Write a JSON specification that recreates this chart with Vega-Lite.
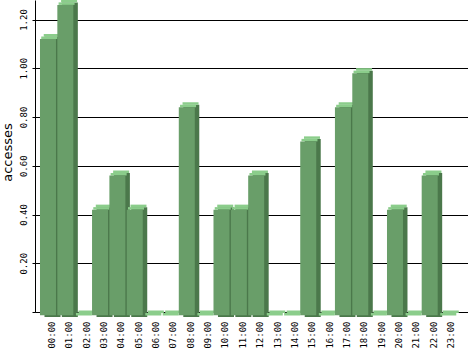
{
  "$schema": "https://vega.github.io/schema/vega-lite/v6.json",
  "autosize": "none",
  "padding": {"left": 35, "top": 0, "right": 0, "bottom": 39},
  "width": 433,
  "height": 312,
  "background": "white",
  "config": {"view": {"stroke": null}},
  "data": {"values": [
    {"hour": "00:00", "accesses": 1.12},
    {"hour": "01:00", "accesses": 1.26},
    {"hour": "02:00", "accesses": 0},
    {"hour": "03:00", "accesses": 0.42},
    {"hour": "04:00", "accesses": 0.56},
    {"hour": "05:00", "accesses": 0.42},
    {"hour": "06:00", "accesses": 0},
    {"hour": "07:00", "accesses": 0},
    {"hour": "08:00", "accesses": 0.84},
    {"hour": "09:00", "accesses": 0},
    {"hour": "10:00", "accesses": 0.42},
    {"hour": "11:00", "accesses": 0.42},
    {"hour": "12:00", "accesses": 0.56},
    {"hour": "13:00", "accesses": 0},
    {"hour": "14:00", "accesses": 0},
    {"hour": "15:00", "accesses": 0.70},
    {"hour": "16:00", "accesses": 0},
    {"hour": "17:00", "accesses": 0.84},
    {"hour": "18:00", "accesses": 0.98},
    {"hour": "19:00", "accesses": 0},
    {"hour": "20:00", "accesses": 0.42},
    {"hour": "21:00", "accesses": 0},
    {"hour": "22:00", "accesses": 0.56},
    {"hour": "23:00", "accesses": 0}
  ]},
  "encoding": {
    "x": {
      "field": "hour", "type": "nominal", "sort": "ascending",
      "scale": {"paddingInner": 0.078, "paddingOuter": 0.5175, "align": 0.278},
      "axis": {
        "title": null, "ticks": false, "domainColor": "black", "domainWidth": 1,
        "labelAngle": -90, "labelAlign": "right", "labelBaseline": "middle",
        "labelFont": "DejaVu Sans Mono", "labelFontSize": 9, "labelColor": "black",
        "labelPadding": 9, "labelOffset": 4, "zindex": 0
      }
    }
  },
  "layer": [
    {
      "transform": [{"filter": "datum.accesses > 0"}],
      "mark": {"type": "bar", "color": "#4b784b", "xOffset": 4.5, "yOffset": -2.5},
      "encoding": {
        "y": {
          "field": "accesses", "type": "quantitative",
          "scale": {"domain": [0, 1.28], "nice": false, "zero": false},
          "axis": {
            "title": "accesses", "titleFont": "DejaVu Sans", "titleFontSize": 13,
            "titleFontWeight": "normal", "titleColor": "black",
            "titleAngle": -90, "titleX": -28, "titleY": 152,
            "titleAlign": "center", "titleBaseline": "middle",
            "values": [0, 0.1, 0.2, 0.3, 0.4, 0.5, 0.6, 0.7, 0.8, 0.9, 1.0, 1.1, 1.2],
            "labelExpr": "datum.value > 0.05 && round(datum.value*10) % 2 == 0 ? format(datum.value, '.2f') : ''",
            "labelAngle": -90, "labelAlign": "center", "labelBaseline": "bottom",
            "labelFont": "DejaVu Sans Mono", "labelFontSize": 9, "labelColor": "black",
            "labelPadding": 4,
            "tickSize": 3, "tickColor": "black", "domainColor": "black",
            "grid": true, "gridColor": "black", "gridOpacity": 1, "gridWidth": 1,
            "zindex": 0
          }
        },
        "y2": {"datum": -0.02}
      }
    },
    {
      "transform": [{"filter": "datum.accesses > 0"}],
      "mark": {"type": "tick", "color": "#8bcd8b", "opacity": 1, "thickness": 2.5, "xOffset": 1.25, "yOffset": -1.25},
      "encoding": {
        "y": {"field": "accesses", "type": "quantitative"},
        "size": {"value": 16}
      }
    },
    {
      "transform": [{"filter": "datum.accesses > 0"}],
      "mark": {"type": "tick", "color": "#8bcd8b", "opacity": 1, "thickness": 2.5, "xOffset": 3.75, "yOffset": -3.75},
      "encoding": {
        "y": {"field": "accesses", "type": "quantitative"},
        "size": {"value": 16}
      }
    },
    {
      "transform": [{"filter": "datum.accesses == 0"}],
      "mark": {"type": "tick", "color": "#8bcd8b", "opacity": 1, "thickness": 2.5, "xOffset": 1.25, "yOffset": 2.25},
      "encoding": {
        "y": {"field": "accesses", "type": "quantitative"},
        "size": {"value": 16}
      }
    },
    {
      "transform": [{"filter": "datum.accesses == 0"}],
      "mark": {"type": "tick", "color": "#8bcd8b", "opacity": 1, "thickness": 2.5, "xOffset": 3.75, "yOffset": -0.25},
      "encoding": {
        "y": {"field": "accesses", "type": "quantitative"},
        "size": {"value": 16}
      }
    },
    {
      "transform": [{"filter": "datum.accesses > 0"}],
      "mark": {"type": "bar", "color": "#699e69"},
      "encoding": {
        "y": {"field": "accesses", "type": "quantitative"},
        "y2": {"datum": -0.013}
      }
    }
  ]
}
